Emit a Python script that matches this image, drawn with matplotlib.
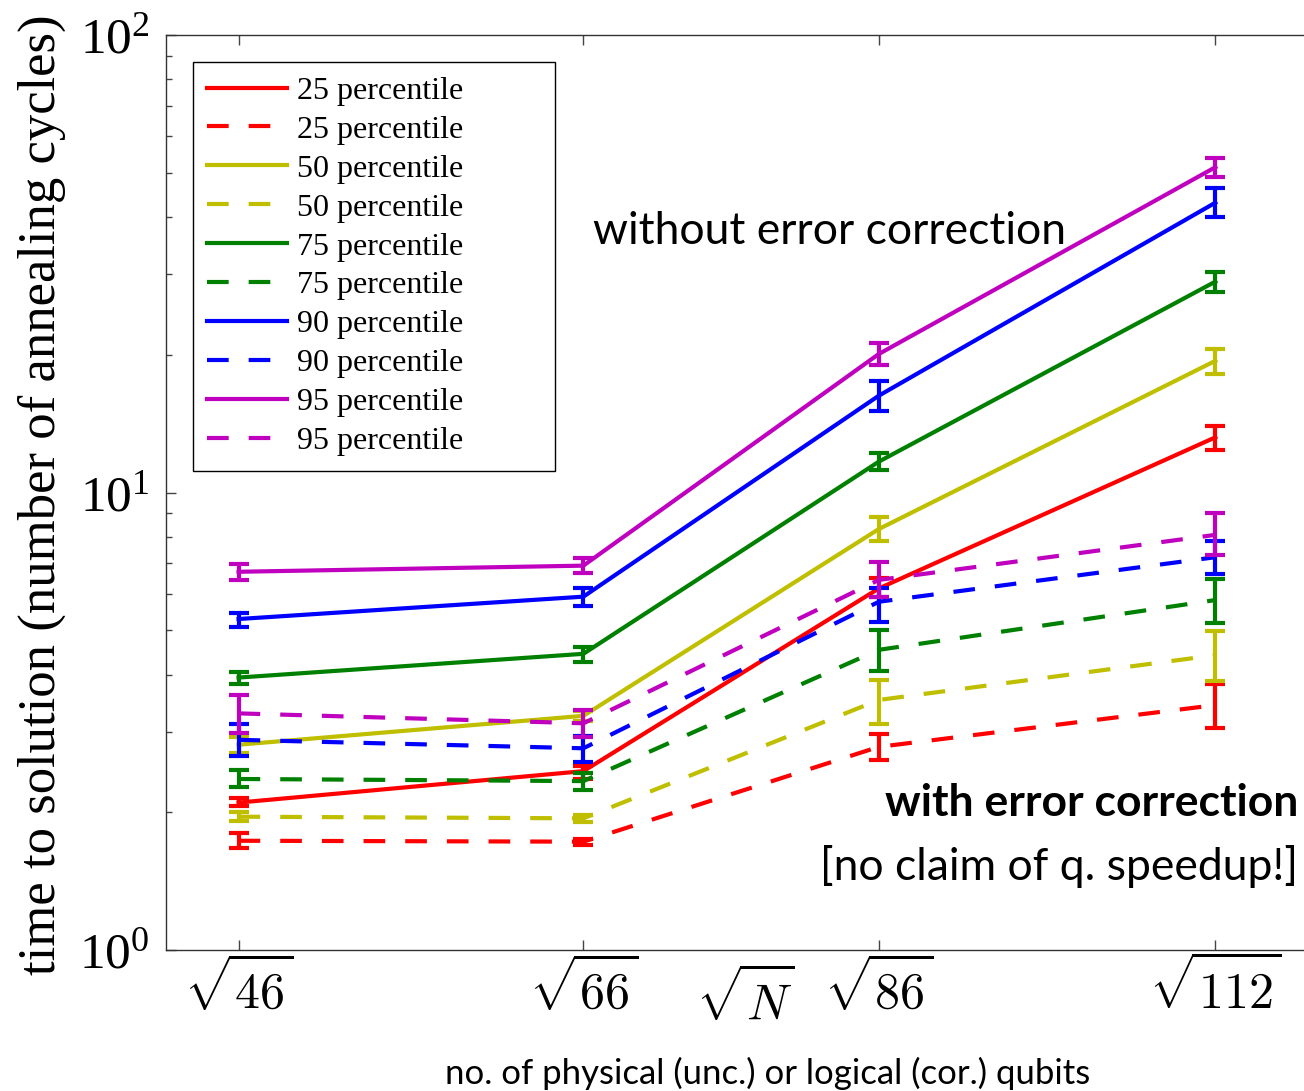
import numpy as np
import matplotlib
matplotlib.use('Agg')
import matplotlib.pyplot as plt

plt.rcParams['font.family'] = 'Liberation Serif'
plt.rcParams['mathtext.fontset'] = 'custom'
plt.rcParams['mathtext.rm'] = 'Liberation Serif'
plt.rcParams['mathtext.it'] = 'Liberation Serif:italic'

# number of qubits (x axis is sqrt(N))
N = [46, 66, 86, 112]
tick_labels = [r'$\sqrt{46}$', r'$\sqrt{66}$', r'$\sqrt{86}$', r'$\sqrt{112}$']
pct_labels = ['25 percentile', '50 percentile', '75 percentile', '90 percentile', '95 percentile']
colors = ['#ff0000', '#bfbf00', '#008000', '#0000ff', '#bf00bf']

# without error correction (solid), value / lower / upper
unc_25 = [2.10, 2.46, 6.17, 13.2]
unc_25_lo = [2.06, 2.37, 5.90, 12.36]
unc_25_hi = [2.15, 2.52, 6.50, 13.97]
unc_50 = [2.81, 3.25, 8.32, 19.4]
unc_50_lo = [2.70, 3.17, 7.83, 18.2]
unc_50_hi = [2.92, 3.33, 8.84, 20.6]
unc_75 = [3.94, 4.44, 11.68, 28.9]
unc_75_lo = [3.81, 4.26, 11.2, 27.5]
unc_75_hi = [4.06, 4.60, 12.2, 30.4]
unc_90 = [5.29, 5.92, 16.28, 43.0]
unc_90_lo = [5.09, 5.66, 15.1, 40.0]
unc_90_hi = [5.46, 6.17, 17.5, 46.3]
unc_95 = [6.71, 6.92, 20.08, 51.4]
unc_95_lo = [6.45, 6.66, 19.0, 49.0]
unc_95_hi = [6.97, 7.18, 21.2, 53.9]

# with error correction (dashed)
cor_25 = [1.733, 1.725, 2.78, 3.43]
cor_25_lo = [1.67, 1.70, 2.60, 3.06]
cor_25_hi = [1.80, 1.75, 2.96, 3.81]
cor_50 = [1.956, 1.94, 3.52, 4.41]
cor_50_lo = [1.91, 1.90, 3.12, 3.87]
cor_50_hi = [2.00, 1.97, 3.89, 4.98]
cor_75 = [2.365, 2.34, 4.53, 5.82]
cor_75_lo = [2.27, 2.24, 4.08, 5.19]
cor_75_hi = [2.47, 2.44, 5.00, 6.46]
cor_90 = [2.88, 2.76, 5.77, 7.22]
cor_90_lo = [2.66, 2.57, 5.22, 6.64]
cor_90_hi = [3.12, 2.93, 6.17, 7.83]
cor_95 = [3.29, 3.13, 6.44, 8.08]
cor_95_lo = [2.98, 2.92, 5.92, 7.30]
cor_95_hi = [3.61, 3.35, 7.04, 9.00]

unc = [(unc_25, unc_25_lo, unc_25_hi), (unc_50, unc_50_lo, unc_50_hi),
       (unc_75, unc_75_lo, unc_75_hi), (unc_90, unc_90_lo, unc_90_hi),
       (unc_95, unc_95_lo, unc_95_hi)]
cor = [(cor_25, cor_25_lo, cor_25_hi), (cor_50, cor_50_lo, cor_50_hi),
       (cor_75, cor_75_lo, cor_75_hi), (cor_90, cor_90_lo, cor_90_hi),
       (cor_95, cor_95_lo, cor_95_hi)]

x = np.sqrt(N)
dash = (0, (5.2, 4.8))
lw = 3.0

fig = plt.figure(figsize=(13.04, 10.91), dpi=100)
W, H = 1304, 1091
ax = fig.add_axes([166 / W, 1 - 950 / H, 1156.5 / W, 915 / H])

for i in range(5):
    for (v, lo, hi), ls in ((unc[i], '-'), (cor[i], dash)):
        v = np.array(v)
        err = [v - np.array(lo), np.array(hi) - v]
        ax.plot(x, v, color=colors[i], lw=lw, linestyle=ls, label=pct_labels[i])
        ax.errorbar(x, v, yerr=err, fmt='none', ecolor=colors[i],
                    elinewidth=lw, capsize=7, capthick=lw)

ax.set_yscale('log')
ax.set_ylim(1, 100)
ax.set_xlim(6.5, 11.0)
ax.set_xticks(x)
ax.set_xticklabels(tick_labels, math_fontfamily='cm', fontsize=36)
ax.set_yticks([1, 10, 100])
ax.set_yticklabels([r'$10^{0}$', r'$10^{1}$', r'$10^{2}$'], fontsize=37)
ax.tick_params(which='both', direction='in', top=True, right=True, color='#444444')
ax.tick_params(which='major', length=7, width=1)
ax.tick_params(which='minor', length=4, width=1)
ax.tick_params(axis='x', pad=6)
ax.tick_params(axis='y', pad=12)
for s in ax.spines.values():
    s.set_color('#333333')
    s.set_linewidth(1)

leg = ax.legend(loc='upper left', bbox_to_anchor=(27 / 1156.5, 1 - 424 / 915, 362 / 1156.5, 397 / 915),
                mode='expand', borderaxespad=0, fontsize=23, labelspacing=0.3,
                handlelength=2.5, handletextpad=0.3, borderpad=0.45,
                fancybox=False, framealpha=1, edgecolor='black')
leg.get_frame().set_linewidth(1)

fig.text(42 / W, 1 - 495 / H, 'time to solution (number of annealing cycles)',
         rotation=90, ha='center', va='center', fontsize=38)
fig.text(745 / W, 1 - 1000 / H, r'$\sqrt{N}$', math_fontfamily='cm',
         ha='center', va='center', fontsize=36)
fig.text(768 / W, 1 - 1073 / H, 'no. of physical (unc.) or logical (cor.) qubits',
         family='Lato', ha='center', va='center', fontsize=25)
fig.text(593 / W, 1 - 232 / H, 'without error correction',
         family='Lato', ha='left', va='center', fontsize=32)
fig.text(1298 / W, 1 - 803 / H, 'with error correction',
         family='Lato', weight='bold', ha='right', va='center', fontsize=32)
fig.text(1298 / W, 1 - 867 / H, '[no claim of q. speedup!]',
         family='Lato', ha='right', va='center', fontsize=32)

fig.savefig('out.png', dpi=100)
